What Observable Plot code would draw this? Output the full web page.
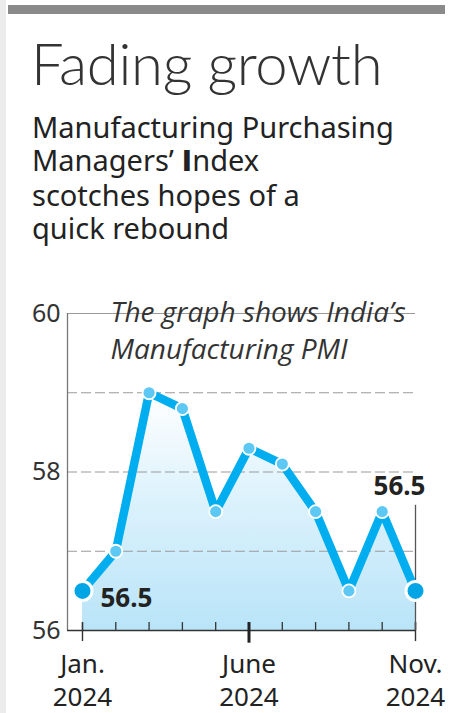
<!DOCTYPE html>
<html>
<head>
<meta charset="utf-8">
<script src="https://cdn.jsdelivr.net/npm/d3@7"></script>
<script src="https://cdn.jsdelivr.net/npm/@observablehq/plot@0.6"></script>
<style>
  html, body { margin: 0; padding: 0; background: #fff; }
  body { width: 451px; height: 713px; position: relative; overflow: hidden; }
  .strip { position: absolute; left: 0; top: 0; width: 6px; height: 713px; background: #ececec; }
  .bar { position: absolute; left: 8px; top: 5px; width: 437px; height: 9px; background: #8a8a8a; }
  h1 { position: absolute; left: 31px; top: 34px; margin: 0; font-family: Lato, sans-serif; font-weight: 300;
       font-size: 58px; line-height: 58px; color: #333; letter-spacing: -0.3px; white-space: nowrap; }
  .sub { position: absolute; left: 32px; top: 110px; margin: 0; font-family: "Noto Sans", sans-serif;
         font-size: 29px; line-height: 33px; color: #222; white-space: nowrap; }
  .sub b { font-family: "DejaVu Sans", "Noto Sans", sans-serif; font-weight: 700; }
  #chart { position: absolute; left: 0; top: 290px; }
</style>
</head>
<body>
<div class="strip"></div>
<div class="bar"></div>
<h1>Fading growth</h1>
<div class="sub">Manufacturing Purchasing<br>Managers’ <b>I</b>ndex<br>scotches hopes of a<br>quick rebound</div>
<div id="chart"></div>
<script>
const months = ["Jan.", "Feb.", "Mar.", "Apr.", "May", "June", "July", "Aug.", "Sep.", "Oct.", "Nov."];
const years = [2024, 2024, 2024, 2024, 2024, 2024, 2024, 2024, 2024, 2024, 2024];
const pmi = [56.5, 57.0, 59.0, 58.8, 57.5, 58.3, 58.1, 57.5, 56.5, 57.5, 56.5];
const yTickValues = [56, 58, 60];
const gridValues = [57, 58, 59];
const xTickIndex = [0, 5, 10];
const note = "The graph shows India’s\nManufacturing PMI";

const data = months.map((m, i) => ({ i, month: m, year: years[i], v: pmi[i] }));
const first = data[0], last = data[data.length - 1];
const xMin = -0.45, xMax = data.length - 1, yBase = 56;

const plot = Plot.plot({
  width: 451,
  height: 423,
  marginTop: 23,
  marginBottom: 83,
  marginLeft: 67,
  marginRight: 36,
  x: { type: "linear", domain: [xMin, xMax] },
  y: { domain: [56, 60] },
  style: { fontFamily: "'Noto Sans', sans-serif", color: "#222", background: "transparent", overflow: "visible" },
  marks: [
    Plot.areaY(data, { x: "i", y1: yBase, y2: "v", fill: "url(#pmiGrad)" }),
    Plot.ruleY(gridValues, { x1: xMin, x2: xMax, stroke: "#9a9a9a", strokeWidth: 1.2, strokeDasharray: "10,4" }),
    Plot.ruleY([60], { x1: xMin, x2: xMax, stroke: "#9a9a9a", strokeWidth: 1.2 }),
    Plot.ruleX([xMin], { y1: 56, y2: 60, stroke: "#777", strokeWidth: 1.3 }),
    Plot.ruleY([56], { x1: xMin, x2: xMax, stroke: "#333", strokeWidth: 1.6 }),
    Plot.ruleX(data, { x: "i", y1: 56, y2: 56.1, stroke: "#333", strokeWidth: 1.3 }),
    Plot.ruleX([0, 10], { y1: 55.86, y2: 56.1, stroke: "#333", strokeWidth: 1.4 }),
    Plot.ruleX([5], { y1: 55.84, y2: 56.1, stroke: "#222", strokeWidth: 3 }),
    Plot.ruleX([last], { x: "i", y1: 56, y2: 57.58, stroke: "#555", strokeWidth: 1.3 }),
    Plot.line(data, { x: "i", y: "v", stroke: "#00aeef", strokeWidth: 8.5, strokeLinejoin: "round", strokeLinecap: "round" }),
    Plot.dot(data.slice(1, -1), { x: "i", y: "v", r: 6.5, fill: "#5cc8f3", stroke: "#fff", strokeWidth: 1.8 }),
    Plot.dot([first, last], { x: "i", y: "v", r: 9.5, fill: "#00a5e6", stroke: "#fff", strokeWidth: 3, ariaLabel: "end-dots" }),
    Plot.text([first], { x: "i", y: "v", text: d => d.v.toFixed(1), textAnchor: "start", dx: 18, dy: 8, fontWeight: "bold", fontSize: 26, fill: "#222" }),
    Plot.text([last], { x: "i", y: "v", text: d => d.v.toFixed(1), textAnchor: "end", dx: 10, dy: -104, fontWeight: "bold", fontSize: 26, fill: "#222" }),
    Plot.text([note], { frameAnchor: "top-left", dx: 43, dy: -17, lineAnchor: "top", textAnchor: "start", fontStyle: "italic", fontFamily: "'Open Sans', 'Noto Sans', sans-serif", fontSize: 28, lineHeight: 1.3, fill: "#333" }),
    Plot.axisY({ ticks: yTickValues, tickFormat: d => String(d), tickSize: 0, tickPadding: 7, fontSize: 25, fill: "#333", label: null }),
    Plot.axisX({ ticks: xTickIndex, tickFormat: i => `${months[i]}\n${years[i]}`, tickSize: 0, tickPadding: 19, fontSize: 26, lineHeight: 1.28, fill: "#222", label: null })
  ]
});

const svg = d3.select(plot);
const defs = svg.insert("defs", ":first-child");
const grad = defs.append("linearGradient").attr("id", "pmiGrad").attr("x1", 0).attr("y1", 0).attr("x2", 0).attr("y2", 1);
grad.append("stop").attr("offset", "0%").attr("stop-color", "#ffffff");
grad.append("stop").attr("offset", "45%").attr("stop-color", "#dcf2fc");
grad.append("stop").attr("offset", "100%").attr("stop-color", "#b9e4f8");
svg.selectAll('[aria-label="end-dots"] circle').style("filter", "drop-shadow(0px 1px 5px rgba(0,0,0,0.3))");

document.getElementById("chart").appendChild(plot);
</script>
</body>
</html>
